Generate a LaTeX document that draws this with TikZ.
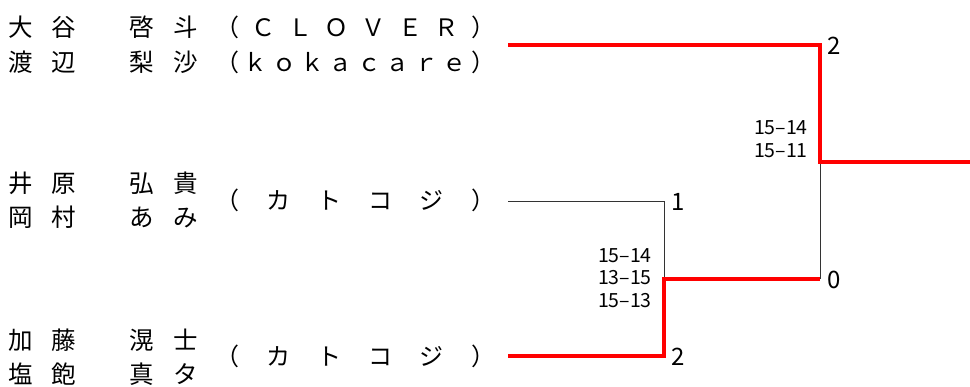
\documentclass[tikz,border=0pt]{standalone}
\usepackage{fontspec}
\setmainfont{Noto Sans CJK JP}
\usetikzlibrary{positioning}

\newcommand{\pname}[4]{\makebox[22pt]{#1}\hspace{21pt}\makebox[22pt]{#2}\hspace{56pt}\makebox[22pt]{#3}\hspace{22pt}\makebox[22pt]{#4}}
\newcommand{\club}[1]{\makebox[280pt][s]{#1}}

\begin{document}
\begin{tikzpicture}[x=1pt, y=-1pt,
  player/.style={anchor=west, inner sep=0pt, font=\fontsize{24.5}{26}\selectfont},
  team/.style={anchor=west, inner sep=0pt, font=\fontsize{24}{26}\selectfont},
  pts/.style={anchor=west, inner sep=0pt, font=\fontsize{24}{26}\selectfont},
  score/.style={anchor=east, inner sep=0pt, align=right, font=\fontsize{19.5}{22.5}\selectfont},
  win/.style={draw=red, line width=4.5pt, line join=miter},
  lose/.style={draw=black!80, line width=0.8pt}
]
\useasboundingbox (0,0) rectangle (970,387);

% players
\node[player] (p1a) at (10,27)  {\pname{大}{谷}{啓}{斗}};
\node[player] (p1b) at (10,62)  {\pname{渡}{辺}{梨}{沙}};
\node[team] (t1a) at (215,27) {\club{（\hfill Ｃ\hfill Ｌ\hfill Ｏ\hfill Ｖ\hfill Ｅ\hfill Ｒ\hfill ）}};
\node[team] (t1b) at (215,62) {\club{（\hfill ｋ\hfill ｏ\hfill ｋ\hfill ａ\hfill ｃ\hfill ａ\hfill ｒ\hfill ｅ\hfill ）}};

\node[player] (p2a) at (10,183) {\pname{井}{原}{弘}{貴}};
\node[player] (p2b) at (10,217) {\pname{岡}{村}{あ}{み}};
\node[team] (t2) at (215,200) {\club{（\hfill カ\hfill ト\hfill コ\hfill ジ\hfill ）}};

\node[player] (p3a) at (10,340) {\pname{加}{藤}{滉}{士}};
\node[player] (p3b) at (10,374) {\pname{塩}{飽}{真}{タ}};
\node[team] (t3) at (215,356) {\club{（\hfill カ\hfill ト\hfill コ\hfill ジ\hfill ）}};

% bracket
\coordinate (e1) at (508,45);
\coordinate (e2) at (508,201);
\coordinate (e3) at (508,356);
\coordinate (s2) at (664,201);
\coordinate (s3) at (664,356);
\coordinate (s)  at (664,279);
\coordinate (f1) at (820,45);
\coordinate (f2) at (820,279);
\coordinate (f)  at (820,162);
\coordinate (champ) at (972,162);

\draw[lose] (e2) -- (s2) -- (s);
\draw[lose] (f2) -- (f);
\draw[win] (e3) -- (s3) -- (s) -- (f2);
\draw[win] (e1) -- (f1) -- (f) -- (champ);

% games and scores
\node[pts] (g1) at (827,46)  {2};
\node[pts] (g2) at (827,280) {0};
\node[pts] (g3) at (671,202) {1};
\node[pts] (g4) at (671,357) {2};
\node[score] (sc1) at (808,139) {15–14\\15–11};
\node[score] (sc2) at (652,278) {15–14\\13–15\\15–13};
\end{tikzpicture}
\end{document}
